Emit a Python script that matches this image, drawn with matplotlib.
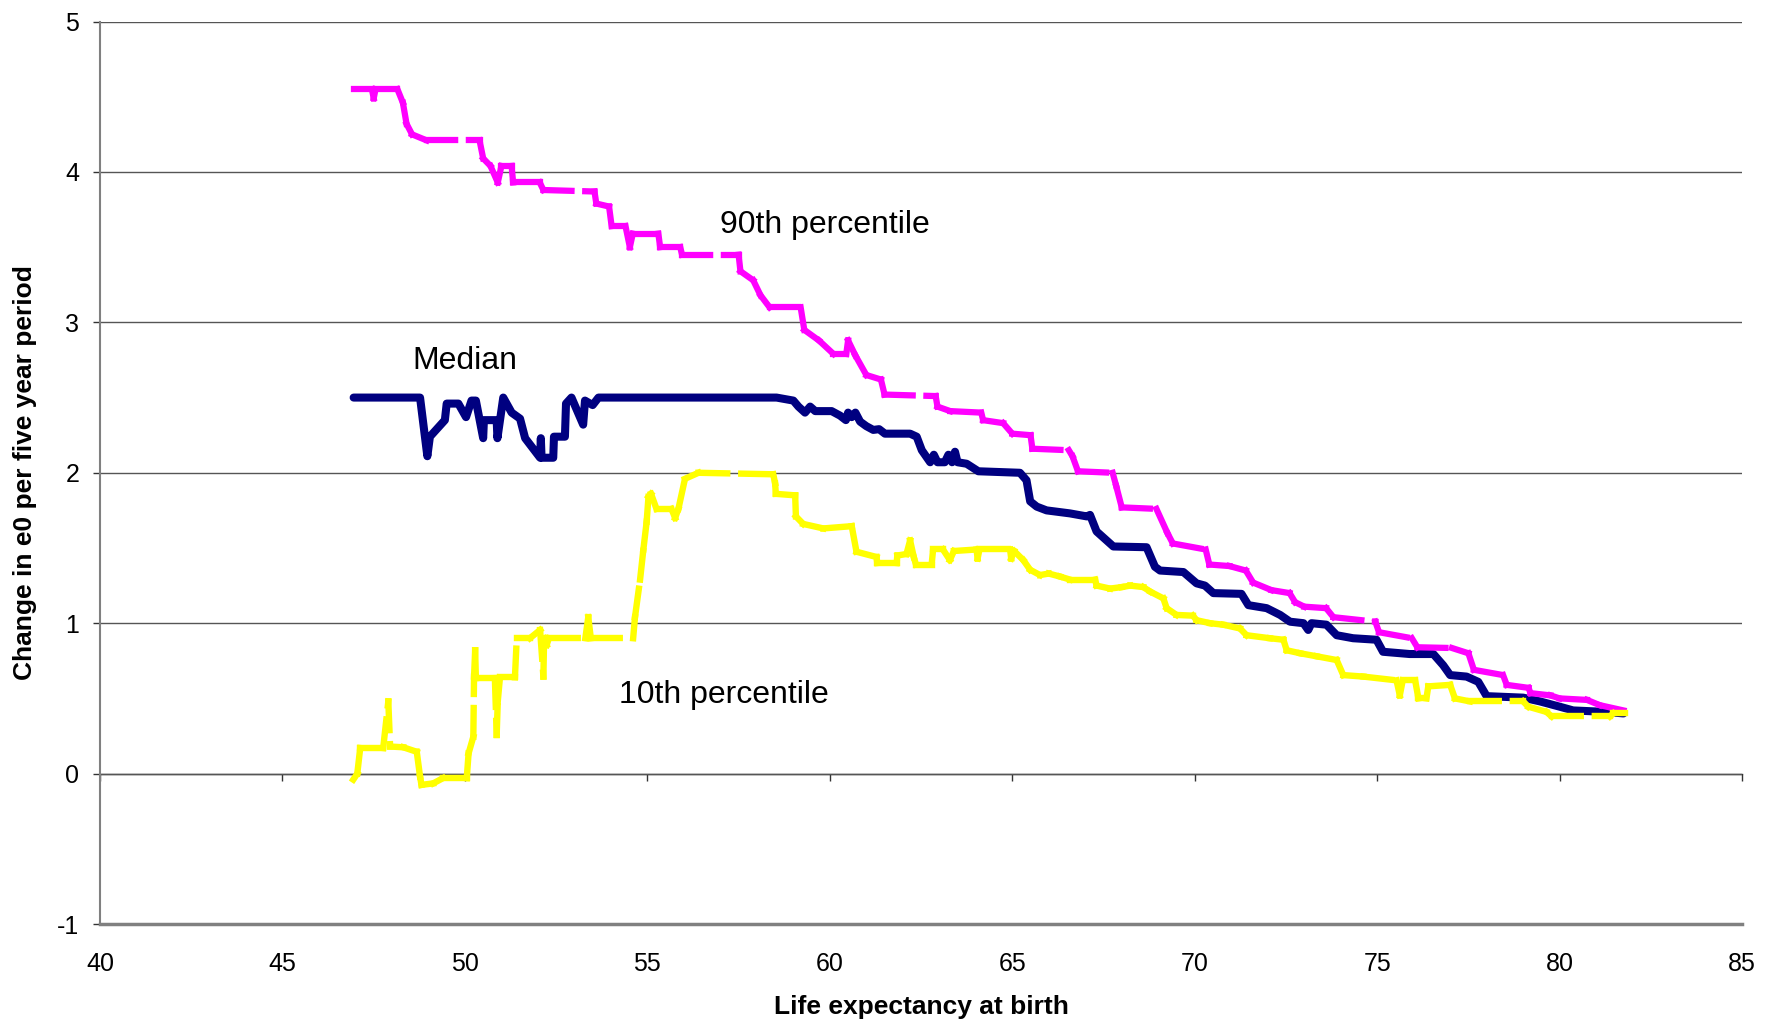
import matplotlib
matplotlib.use("Agg")
import matplotlib.pyplot as plt
from matplotlib.collections import LineCollection
import numpy as np

plt.rcParams['font.family'] = ['Liberation Sans', 'DejaVu Sans']
plt.rcParams['axes.unicode_minus'] = False

# 90th percentile of e0 gains, by level of life expectancy
p90_x = [46.95, 47.45, 47.5, 47.55, 48.15, 48.3, 48.4, 48.55, 48.95, 50.4, 50.5, 50.7,
         50.9, 51.0, 51.28, 51.32, 52.05, 52.15, 53.55, 53.6, 53.95, 54.02, 54.4, 54.52,
         54.6, 55.3, 55.35, 55.9, 55.95, 57.5, 57.55, 57.9, 58.1, 58.35, 59.2, 59.3,
         59.7, 60.1, 60.45, 60.5, 60.7, 61.0, 61.4, 61.5, 62.9, 62.95, 63.3, 64.15,
         64.2, 64.75, 65.0, 65.5, 65.55, 66.55, 66.65, 66.8, 67.75, 67.85, 68.0, 68.95,
         69.25, 69.4, 70.3, 70.4, 70.95, 71.4, 71.6, 72.1, 72.6, 72.75, 73.0, 73.6,
         73.8, 74.95, 75.05, 75.95, 76.1, 77.05, 77.5, 77.65, 78.45, 78.55, 79.15, 79.2,
         79.75, 80.0, 80.75, 81.1, 81.75]
p90_y = [4.55, 4.55, 4.49, 4.55, 4.55, 4.46, 4.32, 4.25, 4.21, 4.21, 4.09, 4.04,
         3.93, 4.04, 4.04, 3.93, 3.93, 3.88, 3.87, 3.79, 3.77, 3.64, 3.64, 3.50,
         3.59, 3.59, 3.50, 3.50, 3.45, 3.45, 3.34, 3.28, 3.18, 3.10, 3.10, 2.95,
         2.88, 2.79, 2.79, 2.88, 2.78, 2.65, 2.62, 2.52, 2.51, 2.44, 2.41, 2.40,
         2.35, 2.33, 2.26, 2.25, 2.16, 2.15, 2.11, 2.01, 2.00, 1.91, 1.77, 1.76,
         1.60, 1.53, 1.49, 1.39, 1.38, 1.35, 1.27, 1.22, 1.20, 1.14, 1.11, 1.10,
         1.04, 1.01, 0.94, 0.90, 0.84, 0.835, 0.80, 0.69, 0.655, 0.59, 0.57, 0.535,
         0.52, 0.50, 0.49, 0.455, 0.42]

# median
med_x = [46.95, 48.77, 48.97, 49.04, 49.45, 49.5, 49.82, 50.03, 50.18, 50.3, 50.5, 50.52,
         50.87, 50.89, 51.05, 51.28, 51.51, 51.65, 52.06, 52.08, 52.1, 52.42, 52.44, 52.74,
         52.77, 52.92, 53.24, 53.29, 53.5, 53.66, 58.54, 59.0, 59.14, 59.32, 59.46, 59.6,
         60.05, 60.28, 60.44, 60.5, 60.6, 60.7, 60.83, 61.0, 61.19, 61.35, 61.51, 62.2,
         62.38, 62.52, 62.75, 62.85, 62.95, 63.15, 63.25, 63.35, 63.43, 63.5, 63.75, 64.07,
         65.21, 65.39, 65.49, 65.67, 65.94, 66.58, 67.04, 67.13, 67.31, 67.77, 68.68, 68.91,
         69.05, 69.69, 70.05, 70.28, 70.51, 71.28, 71.47, 71.97, 72.34, 72.61, 72.98, 73.11,
         73.2, 73.61, 73.89, 74.34, 74.98, 75.16, 75.89, 76.54, 76.81, 77.0, 77.45, 77.77,
         78.0, 79.0, 79.46, 80.0, 80.37, 81.29, 81.75]
med_y = [2.50, 2.50, 2.11, 2.24, 2.35, 2.46, 2.46, 2.37, 2.48, 2.48, 2.23, 2.35,
         2.35, 2.23, 2.50, 2.40, 2.36, 2.23, 2.10, 2.23, 2.10, 2.10, 2.24, 2.24,
         2.46, 2.50, 2.32, 2.48, 2.45, 2.50, 2.50, 2.48, 2.44, 2.40, 2.44, 2.41,
         2.41, 2.38, 2.35, 2.40, 2.37, 2.40, 2.34, 2.31, 2.285, 2.29, 2.26, 2.26,
         2.24, 2.15, 2.07, 2.12, 2.07, 2.07, 2.12, 2.07, 2.14, 2.07, 2.06, 2.01,
         2.00, 1.95, 1.81, 1.775, 1.75, 1.73, 1.71, 1.72, 1.61, 1.51, 1.505, 1.375,
         1.35, 1.34, 1.265, 1.25, 1.20, 1.195, 1.12, 1.10, 1.055, 1.01, 1.00, 0.955,
         1.00, 0.99, 0.92, 0.90, 0.89, 0.81, 0.795, 0.795, 0.72, 0.655, 0.645, 0.61,
         0.515, 0.505, 0.48, 0.445, 0.42, 0.41, 0.40]

# 10th percentile
p10_x = [46.94, 47.05, 47.13, 47.76, 47.9, 47.95, 48.31, 48.68, 48.77, 48.81, 49.13, 49.4,
         50.05, 50.1, 50.23, 50.25, 50.28, 50.3, 50.82, 50.87, 50.9, 50.96, 51.37, 51.42,
         51.78, 52.06, 52.15, 52.17, 52.24, 52.3, 53.3, 53.38, 53.45, 54.61, 54.66, 54.8,
         54.89, 54.98, 55.03, 55.1, 55.25, 55.66, 55.76, 55.85, 56.03, 56.4, 58.45, 58.5,
         58.52, 59.05, 59.07, 59.27, 59.82, 60.6, 60.73, 61.28, 61.3, 61.83, 61.85, 62.1,
         62.2, 62.3, 62.36, 62.79, 62.83, 63.1, 63.29, 63.4, 64.02, 64.05, 64.1, 64.94,
         64.97, 65.05, 65.3, 65.49, 65.76, 66.0, 66.31, 66.58, 67.27, 67.31, 67.68, 68.0,
         68.23, 68.59, 68.78, 69.14, 69.23, 69.5, 69.95, 70.05, 70.42, 70.78, 71.24, 71.42,
         72.06, 72.43, 72.52, 72.89, 73.34, 73.89, 74.07, 74.62, 75.53, 75.62, 75.7, 76.04,
         76.13, 76.35, 76.4, 77.0, 77.13, 77.54, 79.0, 79.14, 79.64, 79.78, 81.38, 81.47,
         81.8]
p10_y = [-0.04, 0.0, 0.17, 0.17, 0.48, 0.18, 0.175, 0.145, -0.02, -0.075, -0.065, -0.03,
         -0.03, 0.135, 0.245, 0.645, 0.82, 0.635, 0.635, 0.257, 0.48, 0.64, 0.64, 0.90,
         0.90, 0.955, 0.645, 0.90, 0.855, 0.90, 0.90, 1.04, 0.90, 0.90, 1.04, 1.29,
         1.49, 1.675, 1.84, 1.86, 1.76, 1.76, 1.70, 1.76, 1.96, 2.00, 1.99, 1.93,
         1.86, 1.85, 1.71, 1.66, 1.63, 1.645, 1.475, 1.44, 1.40, 1.40, 1.45, 1.46,
         1.55, 1.44, 1.39, 1.39, 1.49, 1.49, 1.42, 1.48, 1.49, 1.43, 1.49, 1.49,
         1.43, 1.48, 1.42, 1.355, 1.32, 1.33, 1.31, 1.29, 1.29, 1.25, 1.23, 1.24,
         1.25, 1.24, 1.21, 1.165, 1.10, 1.055, 1.05, 1.02, 1.00, 0.99, 0.965, 0.92,
         0.90, 0.89, 0.82, 0.80, 0.78, 0.755, 0.655, 0.645, 0.62, 0.52, 0.62, 0.62,
         0.50, 0.50, 0.58, 0.59, 0.50, 0.48, 0.48, 0.445, 0.41, 0.38, 0.38, 0.40,
         0.40]

xticks = list(range(40, 86, 5))
yticks = list(range(-1, 6))


def dashed_series(ax, xs, ys, color, lw, z):
    # dash pattern restarts on every segment, so short steps come out solid
    pts = np.column_stack([xs, ys])
    segs = np.stack([pts[:-1], pts[1:]], axis=1)
    lc = LineCollection(segs, colors=color, linewidths=lw,
                        linestyles=[(0, (4.5, 2.2))], capstyle='projecting',
                        zorder=z)
    ax.add_collection(lc)


fig = plt.figure(figsize=(17.8, 10.26), dpi=100)
ax = fig.add_axes([0.0562, 0.0994, 0.9225, 0.8796])

ax.plot(med_x, med_y, color='#000080', lw=5.8, solid_joinstyle='round',
        solid_capstyle='round', zorder=3)
dashed_series(ax, p90_x, p90_y, '#FF00FF', 4.5, 4)
dashed_series(ax, p10_x, p10_y, '#FFFF00', 4.6, 5)

ax.text(56.99, 3.65, '90th percentile', fontsize=23, va='center')
ax.text(48.55, 2.74, 'Median', fontsize=23, va='center')
ax.text(54.22, 0.52, '10th percentile', fontsize=23, va='center')

ax.set_xlim(40, 85)
ax.set_ylim(-1, 5)
ax.set_xticks(xticks)
ax.set_yticks(yticks)
ax.yaxis.grid(True, color='#555555', lw=1.0)
ax.set_axisbelow(True)

for s in ['top', 'right']:
    ax.spines[s].set_visible(False)
ax.spines['left'].set_color('#808080')
ax.spines['left'].set_linewidth(1.5)
ax.spines['bottom'].set_color('#808080')
ax.spines['bottom'].set_linewidth(2.5)

ax.tick_params(axis='x', length=0, pad=20, labelsize=18)
ax.tick_params(axis='y', direction='out', length=5, width=1, color='#333333',
               pad=10, labelsize=18)

# category axis crosses at y = 0, tick marks hang below it
xax0 = ax.secondary_xaxis(1 / 6)
xax0.set_xticks(xticks)
xax0.tick_params(direction='out', length=5, width=1, color='#333333',
                 labelbottom=False)
xax0.spines['bottom'].set_color('#333333')
xax0.spines['bottom'].set_linewidth(1.0)

ax.set_xlabel('Life expectancy at birth', fontsize=19, fontweight='bold')
ax.xaxis.set_label_coords(0.5, -0.092)
ax.xaxis.label.set_verticalalignment('center')
ax.set_ylabel('Change in e0 per five year period', fontsize=19, fontweight='bold')
ax.yaxis.set_label_coords(-0.0457, 0.5)
ax.yaxis.label.set_verticalalignment('center')

fig.savefig('out.png', dpi=100)
